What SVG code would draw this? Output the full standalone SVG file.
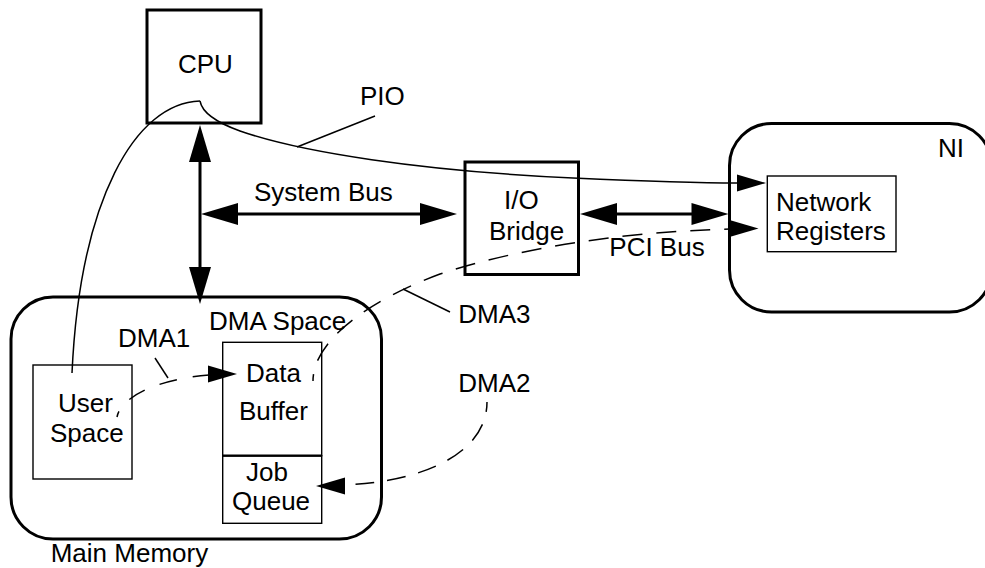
<svg xmlns="http://www.w3.org/2000/svg" xmlns:xlink="http://www.w3.org/1999/xlink" width="985" height="568" viewBox="0 0 985 568">
  <style>
    text { font-family: "Liberation Sans", Arial, sans-serif; font-size: 26px; fill: #000; }
    .thick { fill: none; stroke: #000; stroke-width: 3; }
    .thin { fill: none; stroke: #000; stroke-width: 1.4; }
    .bus { fill: none; stroke: #000; stroke-width: 3; }
    .wire { fill: none; stroke: #000; stroke-width: 1.5; }
    .dash { fill: none; stroke: #000; stroke-width: 1.5; }
    .head { fill: #000; stroke: none; }
  </style>
  <defs>
    <!-- arrowheads with the tip at the origin, pointing along +x -->
    <path id="headBig" class="head" d="M0,0 L-37,-11 L-37,11 Z"/>
    <path id="headSmall" class="head" d="M0,0 L-29,-8.5 L-29,8.5 Z"/>
  </defs>

  <rect width="985" height="568" fill="#fff"/>

  <g id="cpu">
    <rect class="thick" x="147" y="10" width="114" height="113"/>
    <text x="178" y="73">CPU</text>
  </g>

  <g id="io-bridge">
    <rect class="thick" x="465" y="162" width="113.5" height="112.5"/>
    <text x="504" y="209">I/O</text>
    <text x="489" y="239.5">Bridge</text>
  </g>

  <g id="ni">
    <rect class="thick" x="729.5" y="123.5" width="262" height="188.5" rx="42" ry="42"/>
    <text x="938" y="157">NI</text>
  </g>

  <g id="network-registers">
    <rect class="thin" x="767.3" y="176" width="128.7" height="75.7"/>
    <text x="776" y="210.7">Network</text>
    <text x="776" y="240">Registers</text>
  </g>

  <g id="main-memory">
    <rect class="thick" x="11" y="297" width="370.5" height="242" rx="42" ry="42"/>
    <text x="50.7" y="562">Main Memory</text>
    <text x="209" y="330">DMA Space</text>
  </g>

  <g id="user-space">
    <rect class="thin" x="33" y="365" width="99" height="114"/>
    <text x="58" y="411.7">User</text>
    <text x="50" y="442">Space</text>
  </g>

  <g id="data-buffer">
    <rect class="thin" x="222.7" y="342.3" width="99" height="113.4"/>
    <text x="246" y="382.3">Data</text>
    <text x="239" y="420">Buffer</text>
  </g>

  <g id="job-queue">
    <rect class="thin" x="222.7" y="455.7" width="99" height="67.6"/>
    <line x1="222.7" y1="455.7" x2="321.7" y2="455.7" stroke="#000" stroke-width="2.2"/>
    <text x="246" y="480.7">Job</text>
    <text x="232" y="510">Queue</text>
  </g>

  <g id="connectors">
    <!-- system bus: CPU / memory / I/O bridge -->
    <line class="bus" x1="200" y1="161" x2="200" y2="268"/>
    <use xlink:href="#headBig" transform="translate(200,125) rotate(-90)"/>
    <use xlink:href="#headBig" transform="translate(200,304) rotate(90)"/>
    <line class="bus" x1="237" y1="214" x2="421" y2="214"/>
    <use xlink:href="#headBig" transform="translate(201,214) rotate(180)"/>
    <use xlink:href="#headBig" transform="translate(457,214)"/>
    <text x="254" y="201">System Bus</text>

    <!-- PCI bus: I/O bridge to NI -->
    <line class="bus" x1="615" y1="214" x2="692" y2="214"/>
    <use xlink:href="#headBig" transform="translate(580,214) rotate(180)"/>
    <use xlink:href="#headBig" transform="translate(728.5,214)"/>
    <text x="609.3" y="255.7">PCI Bus</text>

    <!-- programmed I/O paths out of the CPU -->
    <path class="wire" d="M200,101 C135,103 80,200 72,373"/>
    <path class="wire" d="M200,101 C202,112 215,122 240,131 C300,152 420,171 573,178 C640,181 700,183 737.5,183"/>
    <use xlink:href="#headSmall" transform="translate(766,183)"/>
    <line class="wire" x1="297" y1="147" x2="375" y2="116"/>
    <text x="360" y="105">PIO</text>

    <!-- DMA1: user space to data buffer -->
    <path class="dash" stroke-dasharray="18 16" stroke-dashoffset="12" d="M117,417 C120,400 150,380 209,375"/>
    <use xlink:href="#headSmall" transform="translate(237,374)"/>
    <line class="wire" x1="155" y1="358" x2="168" y2="378"/>
    <text x="118" y="346.7">DMA1</text>

    <!-- DMA2: into the job queue -->
    <path class="dash" stroke-dasharray="19 13" stroke-dashoffset="9" d="M487,402 C487,450 430,481 345,485"/>
    <use xlink:href="#headSmall" transform="translate(316,486) rotate(180)"/>
    <text x="458.3" y="391.7">DMA2</text>

    <!-- DMA3: data buffer to network registers -->
    <path class="dash" stroke-dasharray="20 14" stroke-dashoffset="13" d="M313,381 C313,340 370,300 440,274 C520,248 620,232 730,229"/>
    <use xlink:href="#headSmall" transform="translate(758.5,228.5)"/>
    <line class="wire" x1="403" y1="289" x2="450" y2="312"/>
    <text x="458.3" y="323">DMA3</text>
  </g>
</svg>
